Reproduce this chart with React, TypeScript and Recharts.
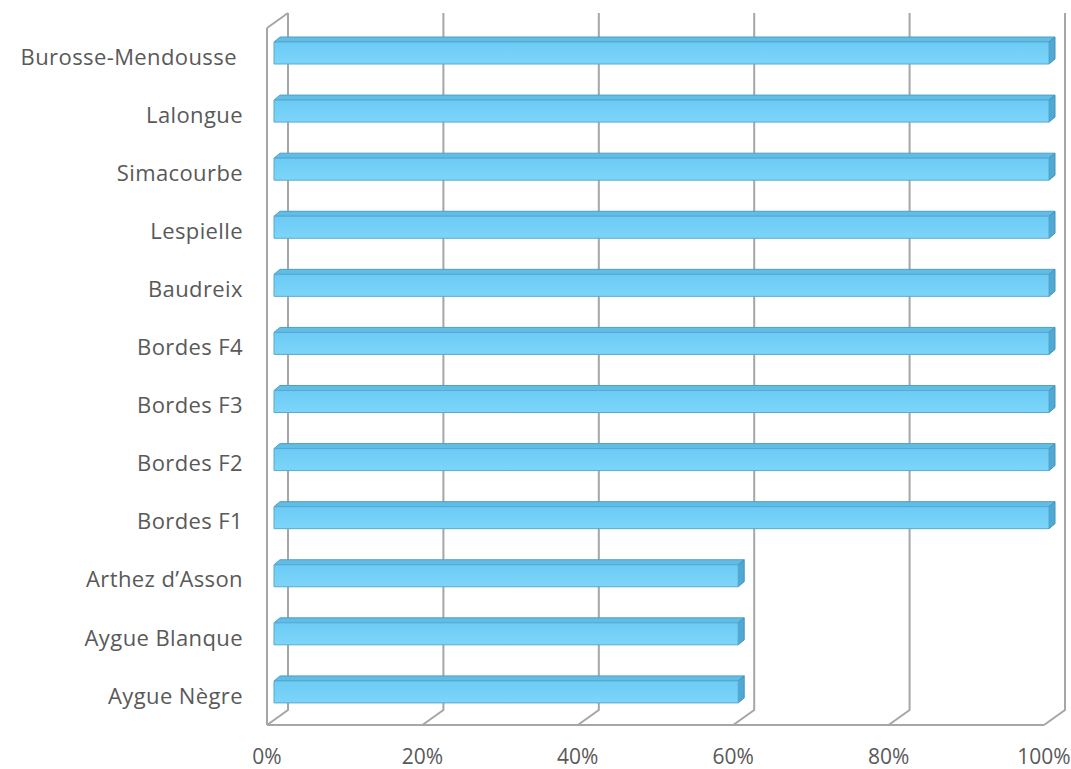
import React from "react";
import { BarChart, Bar, XAxis, YAxis, CartesianGrid } from "recharts";

// sites, top to bottom
const sites = [
  "Burosse-Mendousse ",
  "Lalongue",
  "Simacourbe",
  "Lespielle",
  "Baudreix",
  "Bordes F4",
  "Bordes F3",
  "Bordes F2",
  "Bordes F1",
  "Arthez d’Asson",
  "Aygue Blanque",
  "Aygue Nègre",
];
const shares = [1, 1, 1, 1, 1, 1, 1, 1, 1, 0.6, 0.6, 0.6];
const percentTicks = [0, 0.2, 0.4, 0.6, 0.8, 1];

const data = sites.map((name, i) => ({ name, value: shares[i] }));

// depth of the 3D box (floor/back wall offset)
const DEPTH_X = 21;
const DEPTH_Y = 15;
const GRID = "#a6a6a6";
const TEXT = "#595959";
const FONT = "'Open Sans', sans-serif";

const Bar3D = (props: any) => {
  const { x, y, width, height } = props;
  if (!width || width <= 0) return null;
  // bars sit partway into the box
  const fx = x + 7;
  const fy = y - 4;
  const w = width - 2;
  const d = 6;
  const front = `M${fx},${fy} L${fx + w},${fy} L${fx + w},${fy + height} L${fx},${fy + height} Z`;
  const top = `M${fx},${fy} L${fx + d},${fy - d + 1} L${fx + w + d},${fy - d + 1} L${fx + w},${fy} Z`;
  const side = `M${fx + w},${fy} L${fx + w + d},${fy - d + 1} L${fx + w + d},${fy + height - d + 1} L${fx + w},${fy + height} Z`;
  return (
    <g>
      <path d={top} fill="#5fbde6" stroke="#4f9fc7" strokeWidth={1} strokeLinejoin="round" />
      <path d={side} fill="#4ea9d4" stroke="#4393bb" strokeWidth={1} strokeLinejoin="round" />
      <path d={front} fill="url(#barFront)" stroke="#58a9d0" strokeWidth={1} />
    </g>
  );
};

const gridLine = (props: any) => {
  const { x1, y1, y2, index } = props;
  const bx = x1 + DEPTH_X;
  return (
    <g key={`grid-${index}`}>
      <polyline
        points={`${bx},${y1 - DEPTH_Y} ${bx},${y2 - DEPTH_Y} ${x1},${y2}`}
        fill="none"
        stroke={GRID}
        strokeWidth={2}
      />
      {index === 0 && (
        <line x1={x1} y1={y1} x2={bx} y2={y1 - DEPTH_Y} stroke={GRID} strokeWidth={2} />
      )}
    </g>
  );
};

const CategoryTick = (props: any) => {
  const { x, y, payload } = props;
  return (
    <text
      x={x - 24}
      y={y}
      dy="0.35em"
      textAnchor="end"
      fill={TEXT}
      fontSize={22}
      letterSpacing={0.4}
      fontFamily={FONT}
      style={{ whiteSpace: "pre" }}
    >
      {payload.value}
    </text>
  );
};

const PercentTick = (props: any) => {
  const { x, y, payload } = props;
  return (
    <text x={x} y={y + 32} dy="0.35em" textAnchor="middle" fill={TEXT} fontSize={21} fontFamily={FONT}>
      {`${Math.round(payload.value * 100)}%`}
    </text>
  );
};

export default function App() {
  return (
    <div style={{ position: "absolute", left: 0, top: 0, background: "#fff" }}>
      <BarChart
        width={1071}
        height={769}
        data={data}
        layout="vertical"
        margin={{ top: 28, right: 27, bottom: 0, left: 0 }}
        barSize={22}
      >
        <defs>
          <linearGradient id="barFront" x1="0" y1="0" x2="0" y2="1">
            <stop offset="0%" stopColor="#6ccbf5" />
            <stop offset="100%" stopColor="#7dd5f9" />
          </linearGradient>
        </defs>
        <CartesianGrid horizontal={false} vertical={gridLine} syncWithTicks />
        <XAxis
          type="number"
          domain={[0, 1]}
          ticks={percentTicks}
          interval={0}
          height={44}
          tickSize={0}
          tickMargin={0}
          axisLine={{ stroke: GRID, strokeWidth: 2 }}
          tickLine={false}
          tick={PercentTick}
        />
        <YAxis
          type="category"
          dataKey="name"
          width={267}
          interval={0}
          tickSize={0}
          tickMargin={0}
          axisLine={{ stroke: GRID, strokeWidth: 2 }}
          tickLine={false}
          tick={CategoryTick}
        />
        <Bar dataKey="value" shape={Bar3D} isAnimationActive={false} />
      </BarChart>
    </div>
  );
}
